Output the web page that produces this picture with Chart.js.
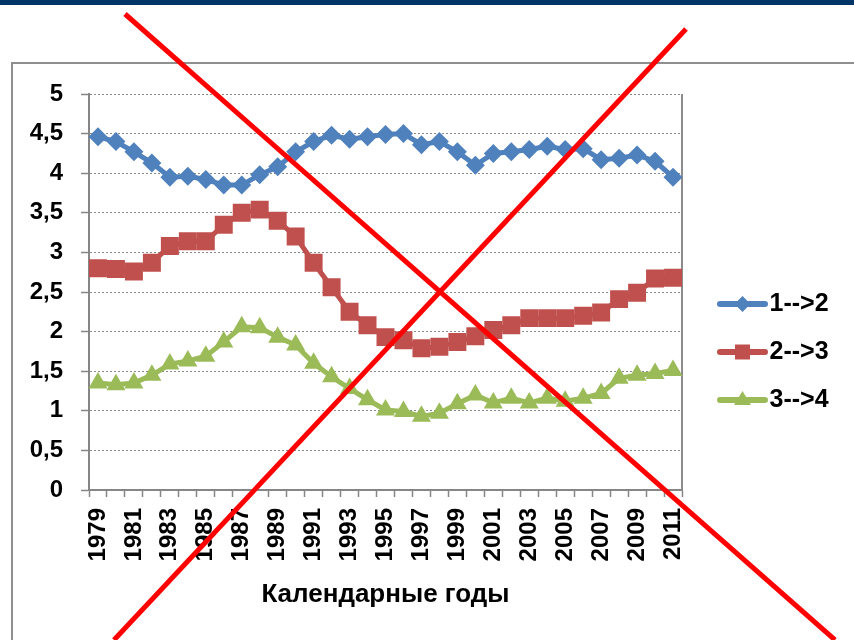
<!DOCTYPE html>
<html>
<head>
<meta charset="utf-8">
<script src="https://cdn.jsdelivr.net/npm/chart.js@4.4.1/dist/chart.umd.min.js"></script>
<style>
html, body { margin: 0; padding: 0; background: #fff; overflow: hidden; }
#wrap { position: relative; width: 854px; height: 640px; overflow: hidden; }
#band { position: absolute; left: 0; top: 0; width: 854px; height: 5px; background: #013567; }
#frame { position: absolute; left: 11px; top: 62px; width: 900px; height: 700px; border: 2px solid #8f8f8f; box-sizing: border-box; }
#chart { position: absolute; left: 0; top: 0; }
#cross { position: absolute; left: 0; top: 0; }
</style>
</head>
<body>
<div id="wrap">
<div id="band"></div>
<div id="frame"></div>
<canvas id="chart" width="854" height="640"></canvas>
<svg id="cross" width="854" height="640">
<line x1="125" y1="14" x2="835" y2="640" stroke="#ff0000" stroke-width="5"/>
<line x1="686" y1="29" x2="114" y2="640" stroke="#ff0000" stroke-width="5"/>
</svg>
</div>
<script>
const years = ['1979','1980','1981','1982','1983','1984','1985','1986','1987','1988','1989',
'1990','1991','1992','1993','1994','1995','1996','1997','1998','1999','2000',
'2001','2002','2003','2004','2005','2006','2007','2008','2009','2010','2011']

const series12 = [4.46,4.40,4.27,4.13,3.95,3.96,3.92,3.85,3.85,3.98,4.08,4.27,4.40,4.48,4.43,4.46,4.49,
4.50,4.36,4.40,4.27,4.10,4.25,4.27,4.30,4.34,4.30,4.31,4.17,4.19,4.23,4.15,3.95]
const series23 = [2.80,2.79,2.76,2.87,3.08,3.14,3.14,3.35,3.50,3.54,3.40,3.20,2.87,2.56,2.25,2.08,1.93,
1.89,1.79,1.81,1.87,1.94,2.02,2.08,2.17,2.17,2.17,2.20,2.24,2.41,2.49,2.67,2.68]
const series34 = [1.35,1.33,1.35,1.45,1.59,1.63,1.69,1.87,2.06,2.05,1.93,1.83,1.60,1.43,1.28,1.14,1.01,
0.99,0.93,0.97,1.09,1.20,1.10,1.16,1.10,1.16,1.12,1.16,1.22,1.41,1.45,1.47,1.51]

const seriesNames = ['1-->2', '2-->3', '3-->4']
const yTickLabels = ['0','0,5','1','1,5','2','2,5','3','3,5','4','4,5','5']

const colors = ['#4F81BD', '#C0504D', '#9BBB59']
const fontFamily = "'Liberation Sans', Arial, sans-serif"

// small line+marker picture for the legend
function legendSample(color, shape){
const c = document.createElement('canvas')
c.width = 74
c.height = 26
const g = c.getContext('2d')
g.strokeStyle = color
g.fillStyle = color
g.lineWidth = 6
g.lineCap = 'round'
g.beginPath()
g.moveTo(26, 13)
g.lineTo(71, 13)
g.stroke()
const cx = 48.5, cy = 13
g.beginPath()
if (shape === 'diamond') {
g.moveTo(cx, cy - 8); g.lineTo(cx + 8, cy); g.lineTo(cx, cy + 8); g.lineTo(cx - 8, cy)
} else if (shape === 'square') {
g.rect(cx - 7.5, cy - 7.5, 15, 15)
} else {
g.moveTo(cx, cy - 9); g.lineTo(cx + 8.5, cy + 5); g.lineTo(cx - 8.5, cy + 5)
}
g.closePath()
g.fill()
return c
}

const samples = [
legendSample(colors[0], 'diamond'),
legendSample(colors[1], 'square'),
legendSample(colors[2], 'triangle')
]

// solid right edge of the plot area
const plotFrame = {
id: 'plotFrame',
beforeDatasetsDraw(chart){
const {ctx, chartArea: a} = chart
ctx.save()
ctx.strokeStyle = '#8c8c8c'
ctx.lineWidth = 2
ctx.beginPath()
ctx.moveTo(a.right, a.top)
ctx.lineTo(a.right, a.bottom)
ctx.stroke()
ctx.restore()
}
}

function makeSet(k, values, style, radius){
return {
label: seriesNames[k],
data: values,
borderColor: colors[k],
backgroundColor: colors[k],
borderWidth: 5,
tension: 0,
pointStyle: style,
pointRadius: radius,
pointHoverRadius: radius,
pointBorderWidth: 0,
pointBackgroundColor: colors[k]
}
}

new Chart(document.getElementById('chart'), {
type: 'line',
data: {
labels: years,
datasets: [
makeSet(0, series12, 'rectRot', 9.5),
makeSet(1, series23, 'rect', 12.7),
makeSet(2, series34, 'triangle', 11)
]
},
options: {
responsive: false,
animation: false,
layout: { padding: { top: 64, left: 14, right: 16, bottom: 0 } },
plugins: {
title: { display: true, text: ' ', font: { size: 10 }, padding: { top: 9, bottom: 9 } },
tooltip: { enabled: false },
legend: {
position: 'right',
maxWidth: 156,
labels: {
usePointStyle: true,
pointStyleWidth: 52,
padding: 23,
color: '#000',
font: { family: fontFamily, size: 25, weight: 'bold' },
generateLabels(chart){
const items = Chart.defaults.plugins.legend.labels.generateLabels(chart)
items.forEach((it, k) => { it.pointStyle = samples[k]; it.lineWidth = 0 })
return items
}
}
}
},
scales: {
x: {
offset: true,
afterFit(s){ s.height = 150 },
grid: { drawOnChartArea: false, drawTicks: true, offset: true, tickLength: 7, tickColor: '#868686', tickWidth: 1.5 },
border: { color: '#868686', width: 2 },
ticks: {
autoSkip: false,
maxRotation: 90,
minRotation: 90,
padding: 11,
color: '#000',
font: { family: fontFamily, size: 24, weight: 'bold' },
callback: (v, i) => i % 2 === 0 ? years[i] : ''
},
title: {
display: true,
text: 'Календарные годы',
color: '#000',
font: { family: fontFamily, size: 26, weight: 'bold' },
padding: { top: 0, bottom: 30 }
}
},
y: {
min: 0,
max: 5,
afterFit(s){ s.width = 75 },
grid: { color: '#8a8a8a', lineWidth: 1, tickLength: 8, tickColor: '#868686', tickWidth: 1.5, tickBorderDash: [] },
border: { color: '#868686', width: 2, dash: [2, 2] },
ticks: {
stepSize: 0.5,
autoSkip: false,
padding: 18,
color: '#000',
font: { family: fontFamily, size: 24, weight: 'bold' },
callback: (v, i) => yTickLabels[i]
}
}
}
},
plugins: [plotFrame]
})
</script>
</body>
</html>
